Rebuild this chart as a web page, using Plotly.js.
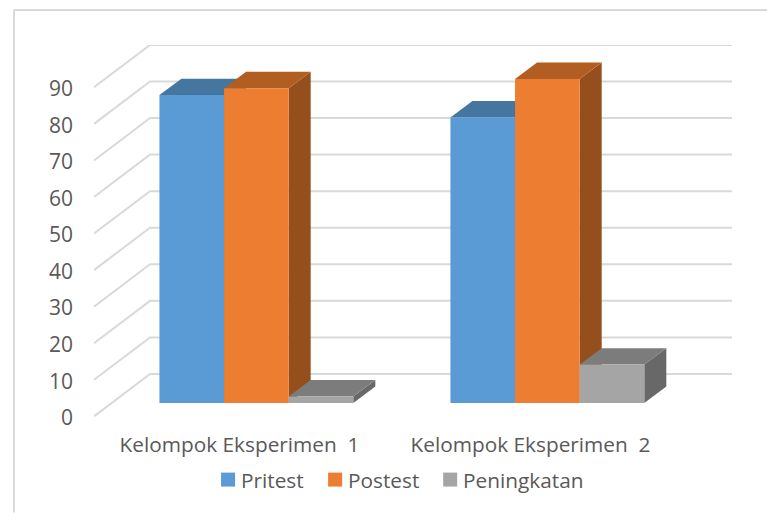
<!DOCTYPE html>
<html>
<head>
<meta charset="utf-8">
<script src="https://cdn.plot.ly/plotly-3.0.1.min.js"></script>
<style>html,body{margin:0;padding:0;background:#fff}#c{width:767px;height:513px}</style>
</head>
<body>
<div id="c"></div>
<script>
const categories = ['Kelompok Eksperimen\u00a0\u00a01', 'Kelompok Eksperimen\u00a0\u00a02'];
const seriesNames = ['Pritest', 'Postest', 'Peningkatan'];
const pritest = [84.2, 78.1];
const postest = [86.1, 88.6];
const peningkatan = [1.8, 10.5];
const yTicks = [0, 10, 20, 30, 40, 50, 60, 70, 80, 90];

const seriesValues = [pritest, postest, peningkatan];
const frontColors = ['#5B9BD5', '#ED7D31', '#A5A5A5'];
const topColors = ['#44769F', '#B25E22', '#7C7C7C'];
const sideColors = ['#3A6690', '#954F1C', '#686868'];
const gridColor = '#D9D9D9';
const textColor = '#595959';
const fontFamily = '"Open Sans", sans-serif';
const legendSwatchLeft = [221, 328, 443];

// geometry of the oblique projection, in axis units
const wallDx = 0.1925, wallDy = 11.58;   // depth of the floor
const frontDx = 0.058, frontDy = 3.66;   // front plane of the bars
const depthDx = 0.0756, depthDy = 4.48;  // depth of a bar
const barW = 0.2221;
const tickLabelNudge = 0.4;              // moves tick text down to sit on the wall lines
const xRange = [0, 2.1925], yRange = [-1, 101.56];
const plot = {l: 94, r: 35.3, t: 45, b: 92.64, w: 767, h: 513};
const px = v => (v - plot.l) / (plot.w - plot.l - plot.r);
const py = v => (plot.h - plot.b - v) / (plot.h - plot.t - plot.b);

const traces = [];
yTicks.forEach(t => traces.push({
  type: 'scatter', mode: 'lines', x: [0, wallDx, xRange[1]], y: [t, t + wallDy, t + wallDy],
  line: {color: gridColor, width: 2}, cliponaxis: false, showlegend: false, hoverinfo: 'skip'
}));

seriesValues.forEach((vals, s) => {
  vals.forEach((v, c) => {
    const x0 = c + 0.5 + frontDx + (s - 1.5) * barW, x1 = x0 + barW;
    const y0 = frontDy, y1 = frontDy + v;
    traces.push({
      type: 'scatter', mode: 'lines', fill: 'toself', fillcolor: sideColors[s],
      x: [x1, x1 + depthDx, x1 + depthDx, x1, x1], y: [y0, y0 + depthDy, y1 + depthDy, y1, y0],
      line: {width: 0, color: sideColors[s]}, cliponaxis: false, showlegend: false, hoverinfo: 'skip'
    });
    traces.push({
      type: 'scatter', mode: 'lines', fill: 'toself', fillcolor: topColors[s],
      x: [x0, x1, x1 + depthDx, x0 + depthDx, x0], y: [y1, y1, y1 + depthDy, y1 + depthDy, y1],
      line: {width: 0, color: topColors[s]}, cliponaxis: false, showlegend: false, hoverinfo: 'skip'
    });
  });
});

seriesValues.forEach((vals, s) => traces.push({
  type: 'bar', name: seriesNames[s], xaxis: 'x2', yaxis: 'y2', showlegend: false,
  x: vals.map((_, c) => c + 0.5 + frontDx + (s - 1) * barW),
  y: vals, base: vals.map(() => frontDy), width: barW,
  marker: {color: frontColors[s], line: {width: 0}}
}));

const borderShapes = [
  {type: 'line', xref: 'paper', yref: 'paper', x0: px(14), x1: px(14), y0: py(10), y1: py(513), line: {color: gridColor, width: 2}},
  {type: 'line', xref: 'paper', yref: 'paper', x0: px(14), x1: px(767), y0: py(10), y1: py(10), line: {color: gridColor, width: 2}}
];
const swatchShapes = seriesNames.map((_, s) => ({
  type: 'rect', xref: 'paper', yref: 'paper',
  x0: px(legendSwatchLeft[s]), x1: px(legendSwatchLeft[s] + 14), y0: py(487), y1: py(473),
  fillcolor: frontColors[s], line: {width: 0}
}));
const legendLabels = seriesNames.map((name, s) => ({
  text: name, xref: 'paper', yref: 'paper', x: px(legendSwatchLeft[s] + 20), y: py(480),
  xanchor: 'left', yanchor: 'middle', showarrow: false, xshift: -2,
  font: {family: fontFamily, size: 20.8, color: textColor}
}));

const layout = {
  width: plot.w, height: plot.h,
  margin: {l: plot.l, r: plot.r, t: plot.t, b: plot.b, pad: 0},
  paper_bgcolor: '#fff', plot_bgcolor: 'rgba(0,0,0,0)',
  font: {family: fontFamily, color: textColor, size: 18},
  barmode: 'overlay', showlegend: false,
  xaxis: {range: xRange, tickmode: 'array', tickvals: [0.5, 1.5], ticktext: categories,
    showgrid: false, zeroline: false, showline: false, ticks: '', ticklabelstandoff: 10,
    tickfont: {family: fontFamily, size: 20.8, color: textColor}},
  yaxis: {range: yRange, tickmode: 'array', tickvals: yTicks.map(t => t - tickLabelNudge), ticktext: yTicks.map(String),
    showgrid: false, zeroline: false, showline: false, ticks: '', ticklabelstandoff: 20,
    tickfont: {family: fontFamily, size: 21, color: textColor}},
  xaxis2: {range: xRange, overlaying: 'x', visible: false},
  yaxis2: {range: yRange, overlaying: 'y', visible: false},
  shapes: borderShapes.concat(swatchShapes),
  annotations: legendLabels
};
Plotly.newPlot('c', traces, layout, {displayModeBar: false, staticPlot: true});
</script>
</body>
</html>
